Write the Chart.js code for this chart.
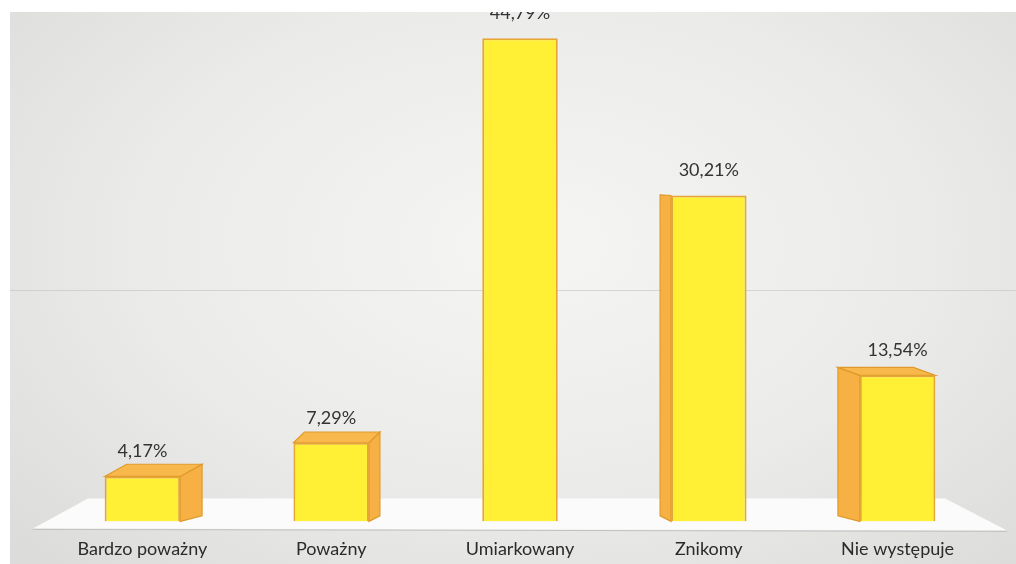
<!DOCTYPE html>
<html>
<head>
<meta charset="utf-8">
<script src="https://cdn.jsdelivr.net/npm/chart.js@4.4.1/dist/chart.umd.min.js"></script>
<style>
  html, body { margin: 0; padding: 0; background: #fff; width: 1016px; height: 564px; overflow: hidden; }
  #wrap {
    position: absolute; left: 10px; top: 12px; width: 1006px; height: 552px;
    background: radial-gradient(ellipse 70% 80% at 52% 42%, #f5f5f4 0%, #ebebea 55%, #dcdcdb 100%);
  }
  canvas { display: block; }
</style>
</head>
<body>
<div id="wrap"><canvas id="chart" width="1006" height="552"></canvas></div>
<script>
// Data
const categories = ['Bardzo poważny', 'Poważny', 'Umiarkowany', 'Znikomy', 'Nie występuje'];
const shares = [4.17, 7.29, 44.79, 30.21, 13.54];
const yMax = 46.85;
const gridValues = [20];

// Format like "44,79%"
function formatPct(v) {
    return v.toFixed(2).replace('.', ',') + '%';
}

// Perspective factors for the fake 3D boxes
const KX = 0.058;
const KY = 0.041;

function depthOf(chart, x, y) {
    const area = chart.chartArea;
    const eyeX = (area.left + area.right) / 2;
    const eyeY = area.top + 164;
    return { dx: KX * (eyeX - x), dy: KY * (y - eyeY) };
}

// Floor, back-wall grid and box sides, drawn before the front faces
const box3d = {
    id: 'box3d',
    beforeDatasetsDraw(chart) {
        const ctx = chart.ctx;
        const area = chart.chartArea;
        const yScale = chart.scales.y;
        const base = yScale.getPixelForValue(0);

        ctx.save();
        // faint gridline on the back wall
        ctx.strokeStyle = 'rgba(190,190,190,0.55)';
        ctx.lineWidth = 1;
        gridValues.forEach(v => {
            const gy = Math.round(yScale.getPixelForValue(v) - 16) + 0.5;
            ctx.beginPath();
            ctx.moveTo(0, gy);
            ctx.lineTo(chart.width, gy);
            ctx.stroke();
        });

        // floor
        ctx.fillStyle = '#fbfbfb';
        ctx.beginPath();
        ctx.moveTo(area.left - 15, base + 7);
        ctx.lineTo(area.left + 40, base - 23);
        ctx.lineTo(area.right - 47, base - 23);
        ctx.lineTo(area.right + 15, base + 9);
        ctx.closePath();
        ctx.fill();
        ctx.strokeStyle = 'rgba(190,190,190,0.9)';
        ctx.beginPath();
        ctx.moveTo(area.left - 15, base + 8);
        ctx.lineTo(area.right + 15, base + 10);
        ctx.stroke();

        // sides and tops of the boxes
        const meta = chart.getDatasetMeta(0);
        meta.data.forEach(el => {
            const p = el.getProps(['x', 'y', 'base', 'width'], true);
            const left = p.x - p.width / 2;
            const right = p.x + p.width / 2;
            const top = p.y;
            const bottom = p.base;
            const dTop = depthOf(chart, p.x, top);
            const dBot = depthOf(chart, p.x, bottom);
            const dx = dTop.dx;
            const dyT = Math.max(dTop.dy, 0);
            const dyB = dBot.dy * 0.4;

            ctx.lineWidth = 1.2;
            ctx.strokeStyle = '#e09a2c';
            // side face
            if (Math.abs(dx) > 1) {
                const sx = dx > 0 ? right : left;
                ctx.fillStyle = '#f6b043';
                ctx.beginPath();
                ctx.moveTo(sx, top);
                ctx.lineTo(sx + dx, top - dyT);
                ctx.lineTo(sx + dx, bottom - dyB);
                ctx.lineTo(sx, bottom);
                ctx.closePath();
                ctx.fill();
                ctx.stroke();
            }
            // top face
            if (dyT > 1) {
                ctx.fillStyle = '#f8b84b';
                ctx.beginPath();
                ctx.moveTo(left, top);
                ctx.lineTo(left + dx, top - dyT);
                ctx.lineTo(right + dx, top - dyT);
                ctx.lineTo(right, top);
                ctx.closePath();
                ctx.fill();
                ctx.stroke();
            }
        });
        ctx.restore();
    },
    afterDatasetsDraw(chart) {
        // value labels above each box
        const ctx = chart.ctx;
        const meta = chart.getDatasetMeta(0);
        ctx.save();
        ctx.fillStyle = '#333';
        ctx.font = '18px Lato, "Open Sans", sans-serif';
        ctx.textAlign = 'center';
        ctx.textBaseline = 'middle';
        meta.data.forEach((el, i) => {
            ctx.fillText(formatPct(shares[i]), el.x, el.y - 25);
        });
        ctx.restore();
    }
};

new Chart(document.getElementById('chart'), {
    type: 'bar',
    data: {
        labels: categories,
        datasets: [{
            data: shares,
            backgroundColor: '#fff035',
            borderColor: '#e7a535',
            borderWidth: 2,
            categoryPercentage: 1,
            barPercentage: 0.4
        }]
    },
    options: {
        responsive: false,
        animation: false,
        layout: { padding: { left: 38, right: 24, top: 4, bottom: -5 } },
        plugins: {
            legend: { display: false },
            tooltip: { enabled: false }
        },
        scales: {
            y: {
                display: false,
                min: 0,
                max: yMax
            },
            x: {
                grid: { display: false },
                border: { display: false },
                ticks: {
                    padding: 9,
                    color: '#2b2b2b',
                    font: { family: 'Lato, "Open Sans", sans-serif', size: 18 }
                }
            }
        }
    },
    plugins: [box3d]
});
</script>
</body>
</html>
